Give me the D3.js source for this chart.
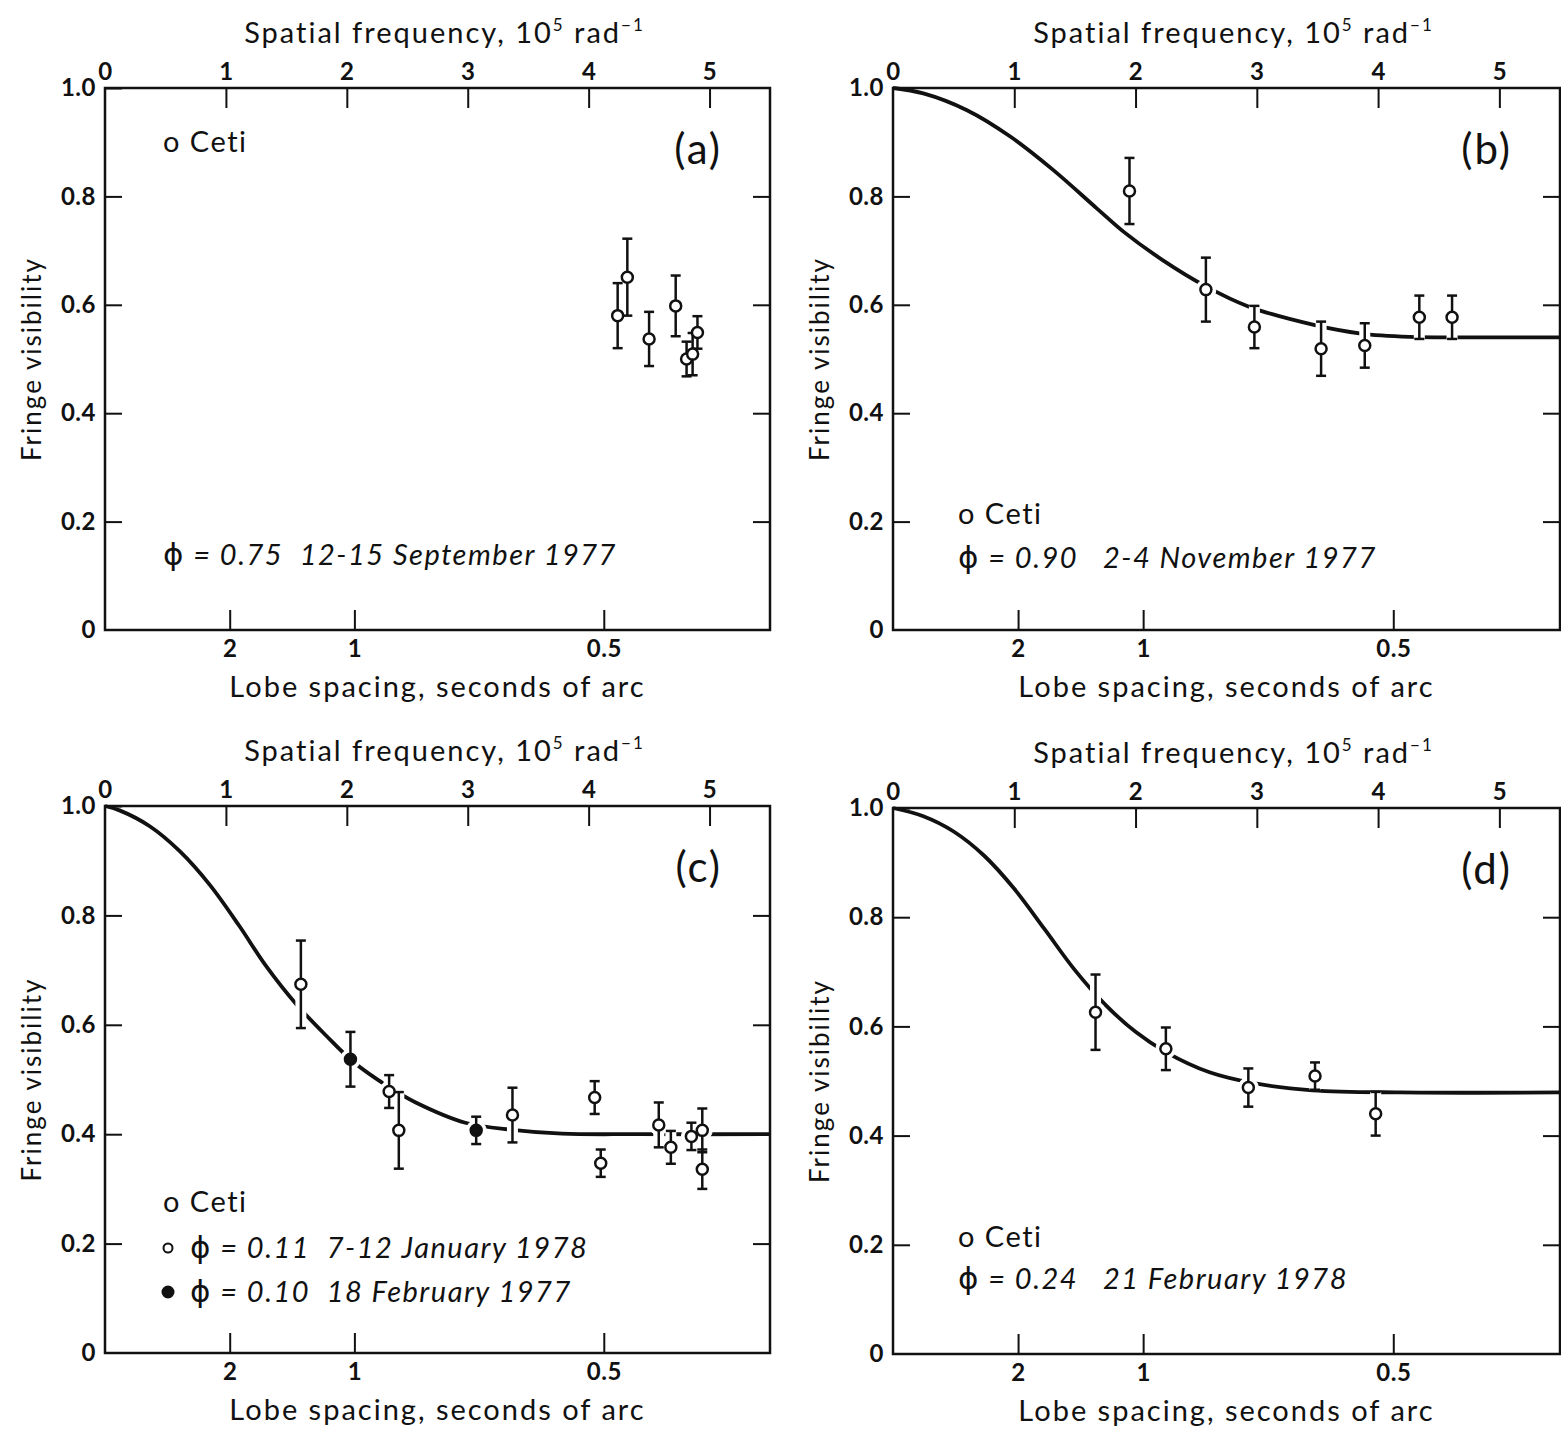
<!DOCTYPE html>
<html lang="en">
<head>
<meta charset="UTF-8">
<title>Fringe visibility of o Ceti</title>
<script src="https://cdn.jsdelivr.net/npm/d3@7"></script>
<style>
  body { margin: 0; background: #fff; }
  svg text { font-family: Lato, "Open Sans", sans-serif; fill: #111; }
  .tick line { stroke: #111; stroke-width: 2; }
  .domain { display: none; }
  .tick text { font-size: 24px; font-weight: 700; letter-spacing: 0.5px; }
</style>
</head>
<body>
<div id="chart"></div>
<script>
// axis ticks
const freqTicks = [0, 1, 2, 3, 4, 5];      // spatial frequency, 10^5 rad^-1
const lobeTicks = [2, 1, 0.5];             // lobe spacing, arcsec
const visTicks = [0, 0.2, 0.4, 0.6, 0.8, 1.0];

// (a) phi = 0.75, 12-15 September 1977
const pointsA = [
  {u: 4.24, v: 0.580, e: 0.060},
  {u: 4.32, v: 0.651, e: 0.071},
  {u: 4.50, v: 0.537, e: 0.050},
  {u: 4.72, v: 0.598, e: 0.056},
  {u: 4.81, v: 0.500, e: 0.032},
  {u: 4.86, v: 0.509, e: 0.039},
  {u: 4.90, v: 0.549, e: 0.030}
];

// (b) phi = 0.90, 2-4 November 1977
const pointsB = [
  {u: 1.95, v: 0.810, e: 0.061},
  {u: 2.58, v: 0.628, e: 0.059},
  {u: 2.98, v: 0.559, e: 0.039},
  {u: 3.53, v: 0.519, e: 0.050},
  {u: 3.89, v: 0.525, e: 0.041},
  {u: 4.34, v: 0.577, e: 0.040},
  {u: 4.61, v: 0.577, e: 0.040}
];
const curveB = [[0, 1.0], [0.25, 0.99], [0.61, 0.959], [0.97, 0.91], [1.32, 0.849],
  [1.68, 0.778], [1.9, 0.735], [2.22, 0.683], [2.58, 0.634], [2.93, 0.597],
  [3.47, 0.563], [3.86, 0.547], [4.26, 0.541], [4.69, 0.540], [5.5, 0.540]];

// (c) phi = 0.11, 7-12 January 1978 (open) and phi = 0.10, 18 February 1977 (filled)
const pointsC = [
  {u: 1.62, v: 0.674, e: 0.080, filled: false},
  {u: 2.03, v: 0.537, e: 0.050, filled: true},
  {u: 2.35, v: 0.478, e: 0.030, filled: false},
  {u: 2.43, v: 0.407, e: 0.070, filled: false},
  {u: 3.07, v: 0.407, e: 0.025, filled: true},
  {u: 3.37, v: 0.435, e: 0.050, filled: false},
  {u: 4.05, v: 0.467, e: 0.030, filled: false},
  {u: 4.10, v: 0.347, e: 0.025, filled: false},
  {u: 4.58, v: 0.417, e: 0.041, filled: false},
  {u: 4.68, v: 0.376, e: 0.030, filled: false},
  {u: 4.85, v: 0.396, e: 0.025, filled: false},
  {u: 4.94, v: 0.407, e: 0.040, filled: false},
  {u: 4.94, v: 0.336, e: 0.036, filled: false}
];
const curveC = [[0, 1.0], [0.12, 0.992], [0.37, 0.963], [0.62, 0.917], [0.87, 0.855],
  [1.11, 0.781], [1.33, 0.708], [1.58, 0.638], [1.83, 0.580], [2.05, 0.533],
  [2.35, 0.486], [2.57, 0.458], [2.98, 0.421], [3.37, 0.408], [3.78, 0.401],
  [4.41, 0.400], [5.5, 0.400]];

// (d) phi = 0.24, 21 February 1978
const pointsD = [
  {u: 1.67, v: 0.626, e: 0.069},
  {u: 2.25, v: 0.559, e: 0.039},
  {u: 2.93, v: 0.488, e: 0.035},
  {u: 3.48, v: 0.509, e: 0.025},
  {u: 3.98, v: 0.440, e: 0.040}
];
const curveD = [[0, 1.0], [0.25, 0.985], [0.5, 0.957], [0.75, 0.913], [1.0, 0.852],
  [1.25, 0.778], [1.5, 0.703], [1.75, 0.640], [2.0, 0.590], [2.25, 0.553],
  [2.61, 0.516], [3.0, 0.495], [3.46, 0.483], [4.18, 0.479], [5.5, 0.479]];

const W = 1561, H = 1429;
const svg = d3.select("#chart").append("svg")
  .attr("width", W).attr("height", H)
  .style("background", "#fff");

// lobe spacing (arcsec) -> spatial frequency (10^5 rad^-1)
const lobeToFreq = s => 206265 / s / 1e5;

const panels = [
  {id: "(a)", left: 105, top: 88, w: 665, h: 542, points: pointsA, curve: null,
   legend: [
     {dx: 58, dy: 64, parts: [{t: "o Ceti"}]},
     {dx: 58, dy: 477, parts: [{t: "ϕ", phi: true}, {t: " = 0.75  12-15 September 1977", it: true}]}
   ]},
  {id: "(b)", left: 893, top: 88, w: 667, h: 542, points: pointsB, curve: curveB,
   legend: [
     {dx: 65, dy: 436, parts: [{t: "o Ceti"}]},
     {dx: 65, dy: 480, parts: [{t: "ϕ", phi: true}, {t: " = 0.90   2-4 November 1977", it: true}]}
   ]},
  {id: "(c)", left: 105, top: 806, w: 665, h: 547, points: pointsC, curve: curveC,
   legend: [
     {dx: 58, dy: 406, parts: [{t: "o Ceti"}]},
     {dx: 85, dy: 452, marker: "open", parts: [{t: "ϕ", phi: true}, {t: " = 0.11  7-12 January 1978", it: true}]},
     {dx: 85, dy: 496, marker: "filled", parts: [{t: "ϕ", phi: true}, {t: " = 0.10  18 February 1977", it: true}]}
   ]},
  {id: "(d)", left: 893, top: 808, w: 667, h: 546, points: pointsD, curve: curveD,
   legend: [
     {dx: 65, dy: 439, parts: [{t: "o Ceti"}]},
     {dx: 65, dy: 481, parts: [{t: "ϕ", phi: true}, {t: " = 0.24   21 February 1978", it: true}]}
   ]}
];

panels.forEach(p => {
  const g = svg.append("g").attr("transform", `translate(${p.left},${p.top})`);
  const x = d3.scaleLinear().domain([0, 5.5]).range([0, p.w]);
  const y = d3.scaleLinear().domain([0, 1]).range([p.h, 0]);

  // axes, ticks pointing inward
  g.append("g")
    .call(d3.axisTop(x).tickValues(freqTicks).tickSizeInner(-20).tickSizeOuter(0).tickPadding(8)
      .tickFormat(d3.format("d")));
  g.append("g").attr("transform", `translate(0,${p.h})`)
    .call(d3.axisBottom(x).tickValues(lobeTicks.map(lobeToFreq)).tickSizeInner(-20).tickSizeOuter(0)
      .tickPadding(10).tickFormat((d, i) => String(lobeTicks[i])));
  g.append("g")
    .call(d3.axisLeft(y).tickValues(visTicks).tickSizeInner(-17).tickSizeOuter(0).tickPadding(9)
      .tickFormat(d => d === 0 ? "0" : d3.format(".1f")(d)));
  g.append("g").attr("transform", `translate(${p.w},0)`)
    .call(d3.axisRight(y).tickValues(visTicks.slice(1, 5)).tickSizeInner(-17).tickSizeOuter(0)
      .tickFormat(""));
  g.selectAll(".tick").filter(d => d === 0).select("line").remove();

  // box
  g.append("rect").attr("width", p.w).attr("height", p.h)
    .attr("fill", "none").attr("stroke", "#111").attr("stroke-width", 2.5);

  // axis titles
  const tTop = g.append("text").attr("x", p.w / 2 + 7).attr("y", -45)
    .attr("text-anchor", "middle").style("font-size", "29px").style("letter-spacing", "2px");
  tTop.append("tspan").text("Spatial frequency, 10");
  tTop.append("tspan").attr("dy", -12).style("font-size", "17px").text("5");
  tTop.append("tspan").attr("dy", 12).text(" rad");
  tTop.append("tspan").attr("dy", -12).style("font-size", "17px").text("−1");

  g.append("text").attr("x", p.w / 2).attr("y", p.h + 67)
    .attr("text-anchor", "middle").style("font-size", "29px").style("letter-spacing", "2px")
    .text("Lobe spacing, seconds of arc");

  g.append("text")
    .attr("transform", `translate(-64,${p.h / 2}) rotate(-90)`)
    .attr("text-anchor", "middle").style("font-size", "26px").style("letter-spacing", "2px")
    .text("Fringe visibility");

  // panel letter
  g.append("text").attr("x", p.w - 48).attr("y", 76).attr("text-anchor", "end")
    .style("font-size", "42px").style("letter-spacing", "2px").text(p.id);

  // model curve
  if (p.curve) {
    g.append("path").datum(p.curve)
      .attr("fill", "none").attr("stroke", "#111").attr("stroke-width", 3.8)
      .attr("d", d3.line().x(d => x(d[0])).y(d => y(d[1])).curve(d3.curveCatmullRom.alpha(0.5)));
  }

  // white knockouts where marks cross the curve
  if (p.curve) {
    const halo = g.append("g").attr("stroke", "#fff").attr("fill", "#fff");
    halo.selectAll("line").data(p.points).join("line")
      .attr("x1", d => x(d.u)).attr("x2", d => x(d.u))
      .attr("y1", d => y(d.v + d.e)).attr("y2", d => y(d.v - d.e))
      .attr("stroke-width", 11);
    halo.selectAll("circle").data(p.points).join("circle")
      .attr("cx", d => x(d.u)).attr("cy", d => y(d.v)).attr("r", 10);
  }

  // error bars
  const eb = g.append("g").attr("stroke", "#111").attr("stroke-width", 2.5);
  eb.selectAll(".bar").data(p.points).join("line").attr("class", "bar")
    .attr("x1", d => x(d.u)).attr("x2", d => x(d.u))
    .attr("y1", d => y(d.v + d.e)).attr("y2", d => y(d.v - d.e));
  eb.selectAll(".capt").data(p.points).join("line").attr("class", "capt")
    .attr("x1", d => x(d.u) - 5).attr("x2", d => x(d.u) + 5)
    .attr("y1", d => y(d.v + d.e)).attr("y2", d => y(d.v + d.e));
  eb.selectAll(".capb").data(p.points).join("line").attr("class", "capb")
    .attr("x1", d => x(d.u) - 5).attr("x2", d => x(d.u) + 5)
    .attr("y1", d => y(d.v - d.e)).attr("y2", d => y(d.v - d.e));

  g.append("g").selectAll("circle").data(p.points).join("circle")
    .attr("cx", d => x(d.u)).attr("cy", d => y(d.v)).attr("r", 5.5)
    .attr("fill", d => d.filled ? "#111" : "#fff")
    .attr("stroke", "#111").attr("stroke-width", 2.5);

  // legend
  p.legend.forEach(l => {
    if (l.marker) {
      g.append("circle").attr("cx", l.dx - 22).attr("cy", l.dy - 10)
        .attr("r", l.marker === "open" ? 4.5 : 5.5)
        .attr("fill", l.marker === "open" ? "#fff" : "#111")
        .attr("stroke", "#111").attr("stroke-width", 2);
    }
    const t = g.append("text").attr("x", l.dx).attr("y", l.dy)
      .style("font-size", "29px").style("letter-spacing", "1.5px").attr("xml:space", "preserve");
    l.parts.forEach(pt => {
      const s = t.append("tspan").text(pt.t);
      if (pt.it) s.style("font-style", "italic");
      if (pt.phi) s.style("font-family", "'DejaVu Sans'").style("font-size", "31px");
    });
  });
});
</script>
</body>
</html>
